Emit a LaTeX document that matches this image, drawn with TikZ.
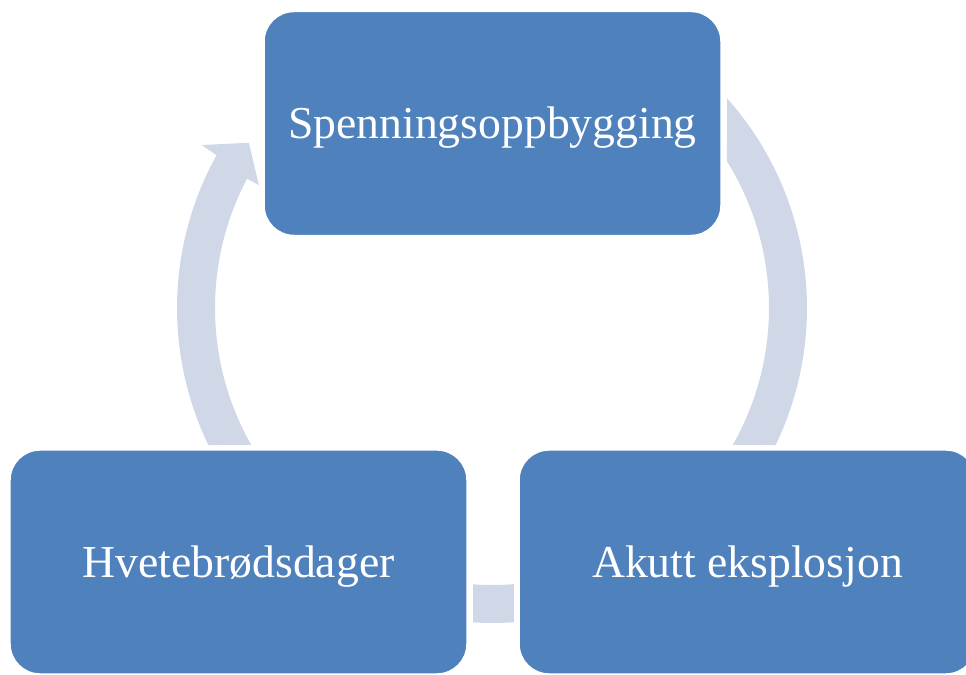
\documentclass[tikz,border=0pt]{standalone}
\usepackage{fontspec}
\setmainfont{Liberation Serif}
\definecolor{boxblue}{HTML}{4F81BD}
\definecolor{ringgrey}{HTML}{D0D8E8}
\tikzset{
  phase/.style={draw=white, line width=0.8pt, fill=boxblue, text=white, rounded corners=0.6cm,
    minimum width=9.14cm, minimum height=4.48cm, font=\fontsize{26}{30}\selectfont,
    text height=17.2pt, text depth=0pt},
  ringarrow/.style={fill=ringgrey, draw=none}
}
\begin{document}
\begin{tikzpicture}[x=0.02cm, y=0.02cm]
      \useasboundingbox (0,0) rectangle (966,675);
      \coordinate (ring) at (492,367);
      \begin{scope}[shift={(ring)}]
            \fill[ringarrow] (205.8:315) arc[start angle=205.8, end angle=151, radius=315] -- (150.7:333) -- (145.8:294) -- (152.2:263.5) -- (152.2:277) arc[start angle=152.2, end angle=209.6, radius=277] -- cycle;
            \fill[ringarrow] (41.75:315) arc[start angle=41.75, end angle=-25.8, radius=315] -- (-29.6:277) arc[start angle=-29.6, end angle=31.97, radius=277] -- cycle;
            \fill[ringarrow] (266.54:315) arc[start angle=266.54, end angle=274, radius=315] -- (274.55:277) arc[start angle=274.55, end angle=266.07, radius=277] -- cycle;
      \end{scope}
      \node[phase] (build) at (492.5,551.5) {Spenningsoppbygging};
      \node[phase] (blast) at (747.5,113) {Akutt eksplosjon};
      \node[phase] (honey) at (238.5,113) {Hvetebrødsdager};
\end{tikzpicture}
\end{document}
